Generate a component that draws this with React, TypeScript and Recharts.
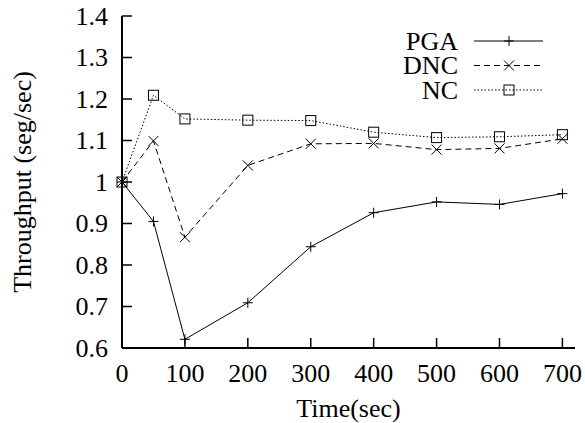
import { LineChart, Line, XAxis, YAxis, Label } from "recharts";

const times = [0, 50, 100, 200, 300, 400, 500, 600, 700];
const pga = [1.0, 0.905, 0.621, 0.709, 0.844, 0.926, 0.952, 0.946, 0.972];
const dnc = [1.0, 1.099, 0.867, 1.04, 1.092, 1.093, 1.078, 1.081, 1.104];
const nc = [1.0, 1.209, 1.152, 1.149, 1.148, 1.12, 1.107, 1.109, 1.114];

const xTicks = [0, 100, 200, 300, 400, 500, 600, 700];
const yTicks = [0.6, 0.7, 0.8, 0.9, 1.0, 1.1, 1.2, 1.3, 1.4];
const seriesNames = ["PGA", "DNC", "NC"];

const FONT = "'Liberation Serif', 'DejaVu Serif', serif";
const FS = 26;
const TICK = 10;

const chartData = times.map((t, i) => ({ t, pga: pga[i], dnc: dnc[i], nc: nc[i] }));

function Plus({ cx, cy }: any) {
  return (
    <path d={`M${cx - 5},${cy}H${cx + 5}M${cx},${cy - 5}V${cy + 5}`} stroke="#000" strokeWidth={1} fill="none" />
  );
}

function Cross({ cx, cy }: any) {
  return (
    <path d={`M${cx - 5},${cy - 5}L${cx + 5},${cy + 5}M${cx - 5},${cy + 5}L${cx + 5},${cy - 5}`} stroke="#000" strokeWidth={1} fill="none" />
  );
}

function Box({ cx, cy }: any) {
  return <rect x={cx - 5} y={cy - 5} width={10} height={10} stroke="#000" strokeWidth={1} fill="none" />;
}

const markers = [Plus, Cross, Box];
const dashes = [undefined, "6 4", "1.5 2"];

function BottomTick({ x, y, payload }: any) {
  return (
    <g>
      <line x1={x} y1={y} x2={x} y2={y - TICK} stroke="#000" strokeWidth={1.5} />
      <text x={x} y={y + 25} textAnchor="middle" dominantBaseline="central" fontFamily={FONT} fontSize={FS} fill="#000">
        {payload.value}
      </text>
    </g>
  );
}

function TopTick({ x, y }: any) {
  return <line x1={x} y1={y} x2={x} y2={y + TICK} stroke="#000" strokeWidth={1.5} />;
}

function LeftTick({ x, y, payload }: any) {
  return (
    <g>
      <line x1={x} y1={y} x2={x + TICK} y2={y} stroke="#000" strokeWidth={1.5} />
      <text x={x - 14} y={y} textAnchor="end" dominantBaseline="central" fontFamily={FONT} fontSize={FS} fill="#000">
        {String(payload.value)}
      </text>
    </g>
  );
}

function RightTick({ x, y }: any) {
  return <line x1={x} y1={y} x2={x - TICK} y2={y} stroke="#000" strokeWidth={1.5} />;
}

function KeyBox() {
  return (
    <svg width={180} height={80} style={{ display: "block" }}>
      {seriesNames.map((name, i) => {
        const y = 15 + i * 24.5;
        const M = markers[i];
        return (
          <g key={name}>
            <text x={78} y={y} textAnchor="end" dominantBaseline="central" fontFamily={FONT} fontSize={FS} fill="#000">
              {name}
            </text>
            <line x1={94} y1={y} x2={163} y2={y} stroke="#000" strokeWidth={1} strokeDasharray={dashes[i]} />
            <M cx={129} cy={y} />
          </g>
        );
      })}
    </svg>
  );
}

export default function App() {
  return (
    <div style={{ position: "absolute", left: 0, top: 0, width: 585, height: 423, background: "#fff" }}>
      <LineChart width={585} height={423} data={chartData} margin={{ top: 16, right: 10, bottom: 0, left: 0 }}>
        <XAxis
          dataKey="t"
          type="number"
          domain={[0, 720]}
          ticks={xTicks}
          interval={0}
          height={75}
          tickSize={0}
          tickMargin={0}
          tickLine={false}
          axisLine={{ stroke: "#000", strokeWidth: 2 }}
          tick={<BottomTick />}
        >
          <Label value="Time(sec)" position="insideBottom" offset={6} style={{ fontFamily: FONT, fontSize: FS, fill: "#000" }} />
        </XAxis>
        <XAxis
          xAxisId="top"
          orientation="top"
          dataKey="t"
          type="number"
          domain={[0, 720]}
          ticks={xTicks}
          interval={0}
          height={0}
          tickSize={0}
          tickMargin={0}
          tickLine={false}
          axisLine={{ stroke: "#000", strokeWidth: 2 }}
          tick={<TopTick />}
        />
        <YAxis
          type="number"
          domain={[0.6, 1.4]}
          ticks={yTicks}
          interval={0}
          width={122}
          tickSize={0}
          tickMargin={0}
          tickLine={false}
          axisLine={{ stroke: "#000", strokeWidth: 2 }}
          tick={<LeftTick />}
        >
          <Label
            value="Throughput (seg/sec)"
            angle={-90}
            position="insideLeft"
            offset={22}
            style={{ textAnchor: "middle", fontFamily: FONT, fontSize: FS, fill: "#000" }}
          />
        </YAxis>
        <YAxis
          yAxisId="right"
          orientation="right"
          type="number"
          domain={[0.6, 1.4]}
          ticks={yTicks}
          interval={0}
          width={0}
          tickSize={0}
          tickMargin={0}
          tickLine={false}
          axisLine={{ stroke: "#000", strokeWidth: 2 }}
          tick={<RightTick />}
        />
        <Line dataKey="pga" name="PGA" stroke="#000" strokeWidth={1} dot={<Plus />} activeDot={false} isAnimationActive={false} />
        <Line dataKey="dnc" name="DNC" stroke="#000" strokeWidth={1} strokeDasharray="6 4" dot={<Cross />} activeDot={false} isAnimationActive={false} />
        <Line dataKey="nc" name="NC" stroke="#000" strokeWidth={1} strokeDasharray="1.5 2" dot={<Box />} activeDot={false} isAnimationActive={false} />
      </LineChart>
      <div style={{ position: "absolute", left: 380, top: 26 }}>
        <KeyBox />
      </div>
    </div>
  );
}
